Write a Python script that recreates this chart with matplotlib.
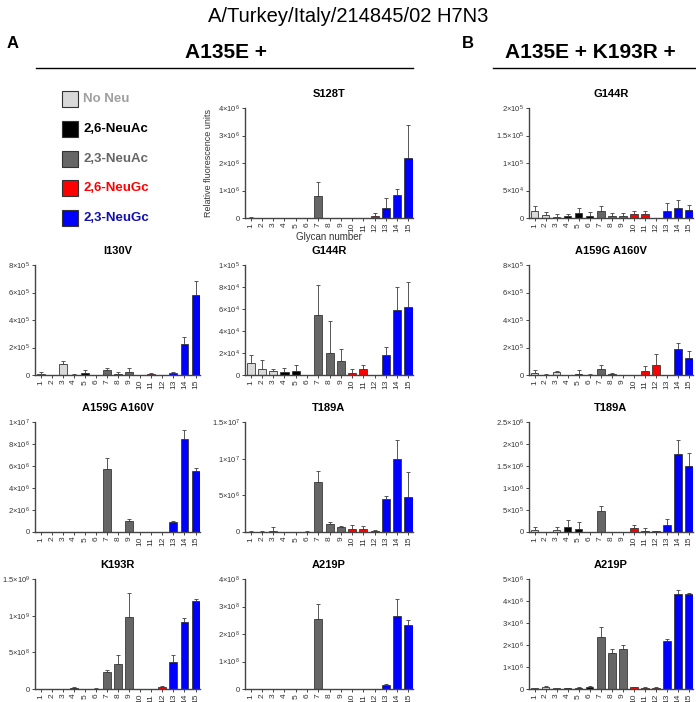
import numpy as np
import matplotlib
matplotlib.use("Agg")
import matplotlib.pyplot as plt
from matplotlib.patches import Rectangle
from matplotlib.lines import Line2D

plt.rcParams['font.family'] = ['Liberation Sans', 'DejaVu Sans']
plt.rcParams['mathtext.fontset'] = 'custom'
plt.rcParams['mathtext.rm'] = 'Liberation Sans'
plt.rcParams['mathtext.it'] = 'Liberation Sans:italic'
plt.rcParams['mathtext.bf'] = 'Liberation Sans:bold'

glycans = np.arange(1, 16)
group_names = ["No Neu", "2,6-NeuAc", "2,3-NeuAc", "2,6-NeuGc", "2,3-NeuGc"]
group_colors = ["#d9d9d9", "#000000", "#666666", "#ff0000", "#0000ff"]
group_text_colors = ["#a0a0a0", "#000000", "#666666", "#ff0000", "#1010b0"]
bar_groups = [0, 0, 0, 1, 1, 1, 2, 2, 2, 3, 3, 3, 4, 4, 4]

# panel A (A135E +), means and SD; scale factor given separately
s128t_mean = [0.01, 0, 0, 0, 0, 0, 0.81, 0.01, 0, 0, 0, 0.08, 0.38, 0.82, 2.17]
s128t_sd = [0.02, 0, 0, 0, 0, 0, 0.50, 0, 0, 0, 0, 0.10, 0.35, 0.25, 1.20]

i130v_mean = [0.07, 0, 0.82, 0.01, 0.15, 0, 0.36, 0.07, 0.19, 0.01, 0.07, 0.01, 0.12, 2.27, 5.82]
i130v_sd = [0.12, 0, 0.17, 0.09, 0.21, 0, 0.17, 0.15, 0.29, 0, 0.10, 0, 0.07, 0.51, 1.02]

g144r_a_mean = [10.9, 5.7, 3.3, 2.4, 3.6, 0, 54.4, 19.9, 13.0, 1.8, 5.4, 0, 18.1, 58.9, 62.2]
g144r_a_sd = [7.5, 7.9, 2.4, 3.6, 5.4, 0, 27.8, 29.0, 10.6, 3.3, 3.4, 0, 7.3, 21.1, 22.1]

a159g_a_mean = [0, 0, 0, 0, 0, 0, 5.69, 0.03, 1.02, 0, 0, 0, 0.90, 8.43, 5.51]
a159g_a_sd = [0, 0, 0, 0, 0, 0, 1.03, 0, 0.18, 0, 0, 0, 0.09, 0.82, 0.27]

t189a_a_mean = [0.05, 0.05, 0.18, 0.02, 0.02, 0.05, 6.86, 1.05, 0.64, 0.36, 0.36, 0.14, 4.50, 9.91, 4.73]
t189a_a_sd = [0.09, 0.13, 0.46, 0, 0, 0.05, 1.46, 0.36, 0.13, 0.59, 0.50, 0.13, 0.41, 2.64, 3.50]

k193r_a_mean = [0.03, 0, 0.03, 0.14, 0.03, 0.05, 2.32, 3.36, 9.82, 0.02, 0.01, 0.32, 3.64, 9.18, 12.0]
k193r_a_sd = [0.03, 0, 0.03, 0.09, 0, 0.03, 0.23, 1.23, 3.23, 0, 0, 0.04, 1.00, 0.46, 0.32]

a219p_a_mean = [0.01, 0.01, 0.01, 0.01, 0.01, 0.01, 2.56, 0.01, 0.01, 0.01, 0.01, 0.01, 0.15, 2.65, 2.34]
a219p_a_sd = [0, 0, 0, 0, 0, 0, 0.53, 0, 0, 0, 0, 0, 0.02, 0.62, 0.16]

# panel B (A135E + K193R +)
g144r_b_mean = [12.1, 5.5, 1.8, 3.0, 8.5, 4.2, 12.1, 3.6, 4.2, 6.7, 6.7, 0, 12.7, 18.2, 15.2]
g144r_b_sd = [9.1, 4.8, 4.9, 3.7, 9.7, 6.1, 9.7, 6.1, 4.9, 5.4, 6.0, 0, 14.0, 14.5, 9.0]

a159g_b_mean = [0.12, 0.02, 0.19, 0, 0.07, 0.01, 0.46, 0.05, 0, 0, 0.29, 0.72, 0, 1.91, 1.23]
a159g_b_sd = [0.22, 0.05, 0.10, 0, 0.27, 0.09, 0.26, 0.07, 0, 0, 0.34, 0.80, 0, 0.41, 0.53]

t189a_b_mean = [0.38, 0, 0.38, 1.21, 0.76, 0, 4.77, 0, 0.02, 0.83, 0.30, 0.15, 1.52, 17.7, 15.0]
t189a_b_sd = [0.83, 0, 0.76, 1.52, 1.51, 0, 1.21, 0, 0, 0.69, 0.68, 0, 1.36, 3.2, 3.0]

a219p_b_mean = [0.05, 0.09, 0.03, 0.03, 0.06, 0.11, 2.36, 1.62, 1.83, 0.08, 0.06, 0.06, 2.18, 4.33, 4.33]
a219p_b_sd = [0.01, 0.03, 0, 0, 0.02, 0.01, 0.44, 0.21, 0.19, 0.03, 0.02, 0.01, 0.09, 0.15, 0.05]

# (title, mean, sd, scale, ymax, tick step, column, row)
panels = [
    ("S128T", s128t_mean, s128t_sd, 1e6, 4e6, 1e6, 1, 0),
    ("I130V", i130v_mean, i130v_sd, 1e5, 8e5, 2e5, 0, 1),
    ("G144R", g144r_a_mean, g144r_a_sd, 1e3, 1e5, 2e4, 1, 1),
    ("A159G A160V", a159g_a_mean, a159g_a_sd, 1e6, 1e7, 2e6, 0, 2),
    ("T189A", t189a_a_mean, t189a_a_sd, 1e6, 1.5e7, 5e6, 1, 2),
    ("K193R", k193r_a_mean, k193r_a_sd, 1e8, 1.5e9, 5e8, 0, 3),
    ("A219P", a219p_a_mean, a219p_a_sd, 1e8, 4e8, 1e8, 1, 3),
    ("G144R", g144r_b_mean, g144r_b_sd, 1e3, 2e5, 5e4, 2, 0),
    ("A159G A160V", a159g_b_mean, a159g_b_sd, 1e5, 8e5, 2e5, 2, 1),
    ("T189A", t189a_b_mean, t189a_b_sd, 1e5, 2.5e6, 5e5, 2, 2),
    ("A219P", a219p_b_mean, a219p_b_sd, 1e6, 5e6, 1e6, 2, 3),
]

W, H = 696, 702
col_x = [(35, 200), (245, 413), (529, 693)]
row_y = [(108, 218), (265, 375), (422, 532), (579, 689)]


def sci_label(v):
    if v == 0:
        return "0"
    e = int(np.floor(np.log10(v) + 1e-9))
    m = v / 10 ** e
    return r"$%g{\times}10^{%d}$" % (m, e)


fig = plt.figure(figsize=(W / 100, H / 100), dpi=100)

spine_c = "#444444"
for title, mean, sd, scale, ymax, step, col, row in panels:
    x0, x1 = col_x[col]
    y0, y1 = row_y[row]
    ax = fig.add_axes([x0 / W, 1 - y1 / H, (x1 - x0) / W, (y1 - y0) / H])
    vals = np.array(mean) * scale
    errs = np.array(sd) * scale
    colors = [group_colors[g] for g in bar_groups]
    ax.errorbar(glycans, vals, yerr=[np.zeros_like(errs), errs], fmt="none",
                ecolor="#555555", elinewidth=0.7, capsize=1.5, capthick=0.7, zorder=1)
    ax.bar(glycans, vals, width=0.72, color=colors, edgecolor="#3a3a3a",
           linewidth=0.6, zorder=2)
    ax.set_xlim(0.5, 15.4)
    ax.set_ylim(0, ymax)
    ticks = np.arange(0, ymax + step / 2, step)
    ax.set_yticks(ticks)
    ax.set_yticklabels([sci_label(t) for t in ticks], fontsize=5.5, color="#333333")
    ax.set_xticks(glycans)
    ax.set_xticklabels([str(g) for g in glycans], rotation=90, fontsize=6, color="#333333")
    for s in ["top", "right"]:
        ax.spines[s].set_visible(False)
    for s in ["left", "bottom"]:
        ax.spines[s].set_color(spine_c)
        ax.spines[s].set_linewidth(1.0)
    ax.tick_params(axis="both", length=2, width=0.7, color=spine_c, pad=1.5)
    ax.set_title(title, fontsize=8, fontweight="bold", pad=8)
    if title == "S128T":
        ax.set_ylabel("Relative fluorescence units", fontsize=6.5, color="#333333", labelpad=4)
        ax.set_xlabel("Glycan number", fontsize=7, color="#333333", labelpad=0)

# legend
for i, name in enumerate(group_names):
    yc = 99 + i * 29.8
    fig.patches.append(Rectangle((62 / W, 1 - (yc + 8) / H), 16 / W, 16 / H,
                                 transform=fig.transFigure, facecolor=group_colors[i],
                                 edgecolor="#333333", linewidth=0.8))
    fig.text(83 / W, 1 - yc / H, name, fontsize=9.5, fontweight="bold",
             color=group_text_colors[i], va="center", ha="left")

# headings
fig.text(0.5, 1 - 17 / H, "A/Turkey/Italy/214845/02 H7N3", fontsize=14.5,
         ha="center", va="center")
fig.text(7 / W, 1 - 44 / H, "A", fontsize=12, fontweight="bold", va="center")
fig.text(462 / W, 1 - 44 / H, "B", fontsize=12, fontweight="bold", va="center")
fig.text(226 / W, 1 - 52 / H, "A135E +", fontsize=15, fontweight="bold",
         ha="center", va="center")
fig.text(590 / W, 1 - 52 / H, "A135E + K193R +", fontsize=15, fontweight="bold",
         ha="center", va="center")
fig.lines.append(Line2D([36 / W, 413 / W], [1 - 68 / H, 1 - 68 / H],
                        transform=fig.transFigure, color="black", linewidth=1.0))
fig.lines.append(Line2D([493 / W, 695 / W], [1 - 68 / H, 1 - 68 / H],
                        transform=fig.transFigure, color="black", linewidth=1.0))

fig.savefig("out.png", dpi=100)
